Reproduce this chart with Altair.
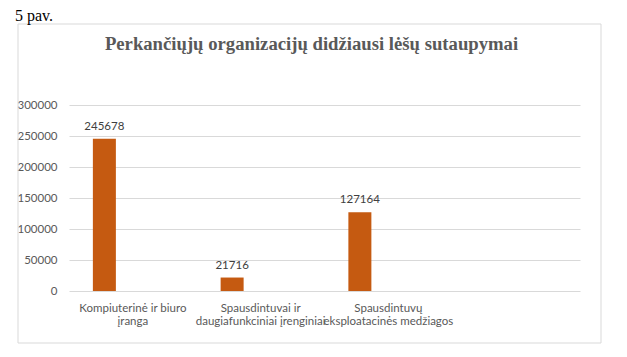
import altair as alt
import pandas as pd

categories = ["Kompiuterinė ir biuro|įranga",
              "Spausdintuvai ir|daugiafunkciniai įrenginiai",
              "Spausdintuvų|eksploatacinės medžiagos"]
domain_cats = categories + [" "]
values = [245678, 21716, 127164]
y_ticks = [0, 50000, 100000, 150000, 200000, 250000, 300000]

df = pd.DataFrame({"cat": categories, "val": values})

FONT = "Lato"
GRAY = "#595959"
one = alt.Data(values=[{}])

x_enc = alt.X("cat:N", scale=alt.Scale(domain=domain_cats, paddingInner=0, paddingOuter=0),
              sort=None,
              axis=alt.Axis(title=None, labelAngle=0, domain=False, ticks=False,
                            labelPadding=11, labelFont=FONT, labelFontSize=11.5,
                            labelColor=GRAY, labelLimit=0, labelLineHeight=13.5,
                            labelOverlap=False,
                            labelExpr="split(datum.label, '|')"))
y_enc = alt.Y("val:Q", scale=alt.Scale(domain=[0, 300000], nice=False),
              axis=alt.Axis(title=None, values=y_ticks, tickCount=7, format="d",
                            domain=False, ticks=False,
                            labelPadding=12, labelFont=FONT, labelFontSize=11.5,
                            labelOverlap=False,
                            labelColor=GRAY, gridColor="#d9d9d9", gridWidth=1))

frame = alt.Chart(one).mark_rect(fill=None, stroke="#d9d9d9", strokeWidth=1).encode(
    x=alt.value(-51), x2=alt.value(532), y=alt.value(-81), y2=alt.value(238))

bars = alt.Chart(df).mark_bar(color="#C55A11", width=23, xOffset=-28.5).encode(x=x_enc, y=y_enc)

labels = alt.Chart(df).mark_text(font=FONT, fontSize=11.5, color="#404040", dy=-9,
                                 baseline="alphabetic", xOffset=-28.5).encode(
    x=x_enc, y=y_enc, text=alt.Text("val:Q", format="d"))

title = alt.Chart(one).mark_text(font="Liberation Serif", fontSize=18.7, fontWeight="bold",
                                 color=GRAY, align="center", baseline="alphabetic").encode(
    x=alt.value(242.5), y=alt.value(-55),
    text=alt.value("Perkančiųjų organizacijų didžiausi lėšų sutaupymai"))

fig = alt.Chart(one).mark_text(font="Liberation Serif", fontSize=16, color="black",
                               align="left", baseline="alphabetic").encode(
    x=alt.value(-54), y=alt.value(-84), text=alt.value("5 pav."))

chart = alt.layer(frame, bars, labels, title, fig).properties(
    width=511, height=186,
    padding={"left": 61, "top": 97, "right": 39, "bottom": 58},
    autosize=alt.AutoSizeParams(type="none"),
).configure_view(stroke=None)

chart.save("out.html", embed_options={"renderer": "svg", "actions": False})
